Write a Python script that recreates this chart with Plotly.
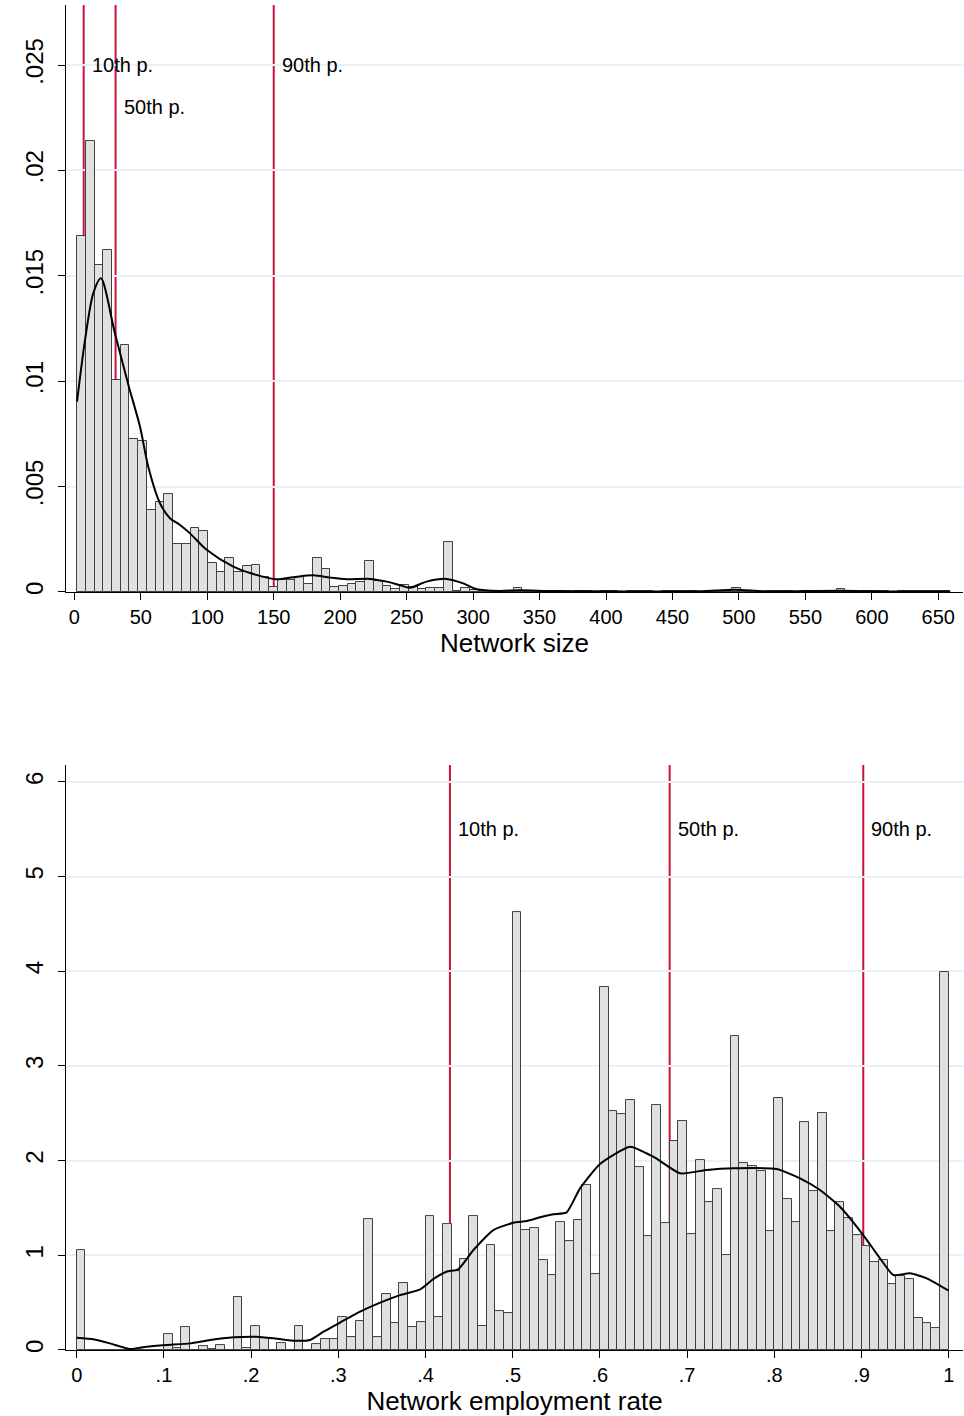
import plotly.graph_objects as go

# ---------------- Network size (top panel) ----------------
size_bin_start = 2.0
size_bin_width = 6.57
size_density = [
    0.01689, 0.0214, 0.01551, 0.01624, 0.01006, 0.0117, 0.00726, 0.00716, 0.00388, 0.00425,
    0.00467, 0.00228, 0.00226, 0.00305, 0.00288, 0.00139, 0.00095, 0.0016, 0.00096, 0.00122,
    0.00127, 0.0007, 0.00022, 0.00057, 0.00057, 0.00073, 0.00036, 0.00163, 0.00108, 0.00025,
    0.00028, 0.00038, 0.00047, 0.00149, 0.00054, 0.00028, 0.00013, 0.00035, 0.00022, 0.00016,
    0.0002, 0.0002, 0.00239, 0.00003, 0.0002, 0.0001, 0.00003, 0.00003, 0.00003, 0.00003,
    0.0002, 0.00003, 0.00003, 0.00003, 0.00003, 0.00003, 0.0, 0.00003, 0.00003, 0.0,
    0.00003, 0.00003, 0.0, 0.00003, 0.00003, 0.00003, 0.0, 0.00003, 0.00003, 0.00003,
    0.00003, 0.0, 0.00003, 0.00003, 0.00003, 0.00018, 0.00003, 0.00003, 0.0, 0.00003,
    0.00003, 0.00003, 0.0, 0.00003, 0.00003, 0.00003, 0.00003, 0.00013, 0.00003, 0.0,
    0.00003, 0.00003, 0.00003, 0.0, 0.00003, 0.00003, 0.00003, 0.00003, 0.00003, 0.00003,
]
size_kde_x = [2, 8, 14.2, 20, 30.5, 41, 49.4, 55.6, 64.4, 71.9, 79.5, 87, 99.5, 119.6,
              134.6, 152.2, 164.7, 179.8, 192.3, 204.9, 222.4, 235, 245, 252.5, 265, 280,
              292.6, 302.7, 320, 335, 360, 400, 470, 497, 520, 577, 620, 659]
size_kde_y = [0.00903, 0.01195, 0.01417, 0.01488, 0.01227, 0.00974, 0.00784, 0.00594, 0.00421,
              0.0035, 0.00318, 0.00278, 0.002, 0.0012, 0.00085, 0.0006, 0.0007, 0.00079,
              0.00068, 0.0006, 0.00062, 0.00049, 0.00032, 0.0002, 0.00049, 0.00062, 0.00041,
              0.00013, 0.00005, 0.00008, 0.00004, 0.00003, 0.00003, 0.0001, 0.00003, 0.00006,
              0.00002, 0.00002]
size_pct_labels = ["10th p.", "50th p.", "90th p."]
size_pct_values = [7, 31, 150]
size_pct_label_y = [0.025, 0.023, 0.025]
size_xticks = list(range(0, 651, 50))
size_yticks = [0, 0.005, 0.01, 0.015, 0.02, 0.025]
size_yticktext = ["0", ".005", ".01", ".015", ".02", ".025"]

# ---------------- Network employment rate (bottom panel) ----------------
rate_bin_start = 0.0
rate_bin_width = 0.01
rate_density = [
    1.053, 0, 0, 0, 0, 0, 0, 0, 0, 0,
    0.165, 0.018, 0.243, 0, 0.042, 0.007, 0.056, 0, 0.56, 0.018,
    0.253, 0.123, 0, 0.077, 0, 0.253, 0, 0.067, 0.113, 0.113,
    0.345, 0.141, 0.31, 1.383, 0.141, 0.591, 0.282, 0.704, 0.246, 0.292,
    1.415, 0.352, 1.327, 0.838, 0.957, 1.415, 0.253, 1.105, 0.415, 0.387,
    4.622, 1.267, 1.285, 0.950, 0.788, 1.348, 1.155, 1.373, 1.739, 0.803,
    3.833, 2.527, 2.496, 2.636, 1.932, 1.200, 2.584, 1.338, 2.207, 2.415,
    1.228, 2.010, 1.559, 1.704, 1.000, 3.319, 1.978, 1.943, 1.890, 1.260,
    2.657, 1.591, 1.348, 2.404, 1.683, 2.503, 1.260, 1.559, 1.397, 1.214,
    1.098, 0.929, 0.954, 0.693, 0.781, 0.746, 0.338, 0.282, 0.236, 3.988,
]
rate_kde_x = [0, 0.019, 0.038, 0.061, 0.080, 0.103, 0.130, 0.153, 0.180, 0.206, 0.2255,
              0.248, 0.2675, 0.283, 0.302, 0.325, 0.348, 0.371, 0.394, 0.409, 0.424,
              0.4376, 0.455, 0.478, 0.5007, 0.516, 0.5313, 0.5466, 0.5619, 0.5772,
              0.6001, 0.6345, 0.6612, 0.6919, 0.7225, 0.753, 0.8028, 0.8295, 0.8524,
              0.8753, 0.902, 0.9212, 0.9365, 0.9556, 0.9748, 1.0]
rate_kde_y = [0.13, 0.113, 0.07, 0.01, 0.035, 0.053, 0.07, 0.106, 0.134, 0.14, 0.123,
              0.098, 0.106, 0.193, 0.29, 0.405, 0.5, 0.58, 0.64, 0.75, 0.827,
              0.852, 1.056, 1.267, 1.344, 1.362, 1.401, 1.433, 1.454, 1.707,
              1.965, 2.147, 2.041, 1.866, 1.901, 1.918, 1.911, 1.813, 1.69,
              1.513, 1.214, 0.968, 0.792, 0.81, 0.757, 0.626]
rate_pct_labels = ["10th p.", "50th p.", "90th p."]
rate_pct_values = [0.428, 0.680, 0.902]
rate_pct_label_y = [5.5, 5.5, 5.5]
rate_xticks = [0, 0.1, 0.2, 0.3, 0.4, 0.5, 0.6, 0.7, 0.8, 0.9, 1.0]
rate_xticktext = ["0", ".1", ".2", ".3", ".4", ".5", ".6", ".7", ".8", ".9", "1"]
rate_yticks = [0, 1, 2, 3, 4, 5, 6]

# ---------------- styling ----------------
FONT = "Liberation Sans, Arial, Helvetica, sans-serif"
BAR_FILL = "#E0E0E0"
BAR_LINE = "#404040"
PCT_COLOR = "#C8143C"
GRID = "#E9F1F3"

fig = go.Figure()

size_centers = [size_bin_start + (i + 0.5) * size_bin_width for i in range(len(size_density))]
rate_centers = [rate_bin_start + (i + 0.5) * rate_bin_width for i in range(len(rate_density))]

fig.add_trace(go.Bar(x=size_centers, y=size_density, width=size_bin_width,
                     marker=dict(color=BAR_FILL, line=dict(color=BAR_LINE, width=1)),
                     xaxis="x", yaxis="y", showlegend=False))
fig.add_trace(go.Scatter(x=size_kde_x, y=size_kde_y, mode="lines",
                         line=dict(color="black", width=2, shape="spline", smoothing=0.8),
                         xaxis="x", yaxis="y", showlegend=False))
fig.add_trace(go.Bar(x=rate_centers, y=rate_density, width=rate_bin_width,
                     marker=dict(color=BAR_FILL, line=dict(color=BAR_LINE, width=1)),
                     xaxis="x2", yaxis="y2", showlegend=False))
fig.add_trace(go.Scatter(x=rate_kde_x, y=rate_kde_y, mode="lines",
                         line=dict(color="black", width=2, shape="spline", smoothing=0.5),
                         xaxis="x2", yaxis="y2", showlegend=False))

shapes = []
annotations = []
for v, lab, ly in zip(size_pct_values, size_pct_labels, size_pct_label_y):
    shapes.append(dict(type="line", xref="x", yref="y domain", x0=v, x1=v, y0=0, y1=1,
                       line=dict(color=PCT_COLOR, width=2), layer="below"))
    annotations.append(dict(x=v, y=ly, xref="x", yref="y", text=lab, showarrow=False,
                            xanchor="left", yanchor="middle", xshift=6,
                            font=dict(family=FONT, size=20, color="black")))
for v, lab, ly in zip(rate_pct_values, rate_pct_labels, rate_pct_label_y):
    shapes.append(dict(type="line", xref="x2", yref="y2 domain", x0=v, x1=v, y0=0, y1=1,
                       line=dict(color=PCT_COLOR, width=2), layer="below"))
    annotations.append(dict(x=v, y=ly, xref="x2", yref="y2", text=lab, showarrow=False,
                            xanchor="left", yanchor="middle", xshift=6,
                            font=dict(family=FONT, size=20, color="black")))

line_common = dict(showline=True, linecolor="black", linewidth=1, ticks="outside",
                   ticklen=7, tickcolor="black", tickwidth=1, zeroline=False)
xtickfont = dict(family=FONT, size=20, color="black")
ytickfont = dict(family=FONT, size=24, color="black")
title_font = dict(family=FONT, size=26, color="black")

fig.update_layout(
    width=964, height=1416,
    margin=dict(l=66, r=1, t=5, b=66),
    paper_bgcolor="white", plot_bgcolor="white",
    bargap=0, barmode="overlay",
    font=dict(family=FONT, color="black"),
    shapes=shapes, annotations=annotations,
    xaxis=dict(domain=[0, 1], anchor="y", range=[-6.3, 668.6], tickvals=size_xticks,
               showgrid=False, tickfont=xtickfont, ticklabelstandoff=0,
               title=dict(text="Network size", font=title_font, standoff=0),
               **line_common),
    yaxis=dict(domain=[0.5636, 1.0], anchor="x", range=[0, 0.02785], tickvals=size_yticks,
               ticktext=size_yticktext, tickangle=-90, showgrid=True, gridcolor=GRID,
               gridwidth=2, tickfont=ytickfont, ticklabelstandoff=5, **line_common),
    xaxis2=dict(domain=[0, 1], anchor="y2", range=[-0.0123, 1.0164], tickvals=rate_xticks,
                ticktext=rate_xticktext, showgrid=False, tickfont=xtickfont,
                ticklabelstandoff=0,
                title=dict(text="Network employment rate", font=title_font, standoff=0),
                **line_common),
    yaxis2=dict(domain=[0.0, 0.4349], anchor="x2", range=[0, 6.177], tickvals=rate_yticks,
                tickangle=-90, showgrid=True, gridcolor=GRID, gridwidth=2,
                tickfont=ytickfont, ticklabelstandoff=5, **line_common),
)

fig.write_html("out.html")
